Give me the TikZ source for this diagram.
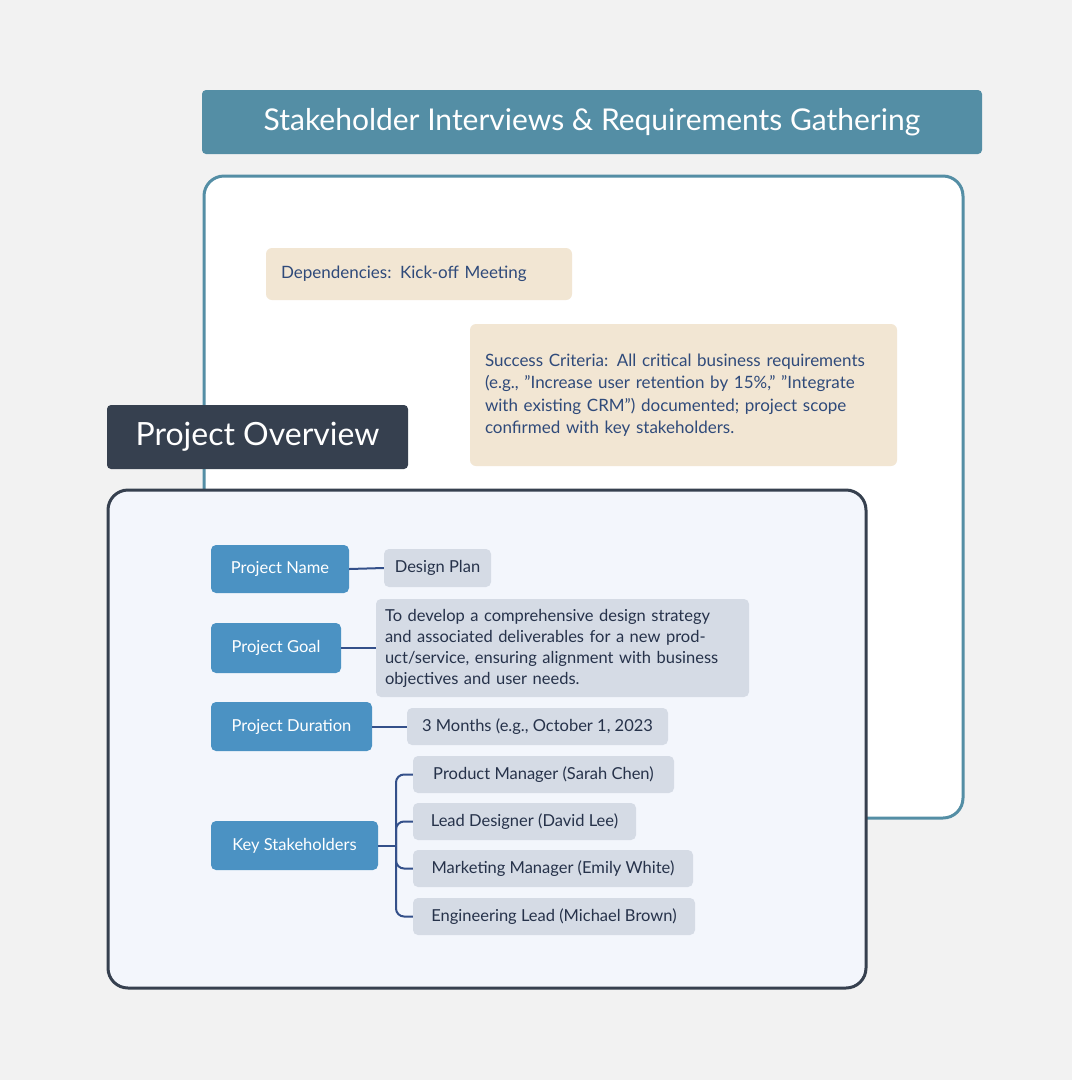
\documentclass[tikz,border=0pt]{standalone}
\usepackage{fontspec}
\setmainfont{Lato}
\begin{document}
\begin{tikzpicture}[x=1pt,y=-1pt,
 title/.style={rounded corners=4pt,text=white,font=\fontsize{30}{36}\selectfont,inner sep=0},
 beige/.style={fill=beigec,rounded corners=6pt,text=txt,font=\fontsize{17}{22.5}\selectfont,align=left,inner sep=0},
 blue/.style={fill=bluec,rounded corners=5pt,text=white,font=\fontsize{16.5}{20}\selectfont,inner sep=0},
 gray/.style={fill=grayc,rounded corners=5pt,text=darkt,font=\fontsize{16.5}{21}\selectfont,align=left,inner sep=0},
 conn/.style={draw=linec,line width=2pt,rounded corners=8pt}]
\definecolor{bg}{HTML}{F2F2F2}
\definecolor{teal}{HTML}{548EA5}
\definecolor{beigec}{HTML}{F2E6D3}
\definecolor{txt}{HTML}{2F4A7A}
\definecolor{dark}{HTML}{36404F}
\definecolor{panel}{HTML}{F3F6FC}
\definecolor{bluec}{HTML}{4B92C3}
\definecolor{grayc}{HTML}{D5DBE5}
\definecolor{darkt}{HTML}{26324A}
\definecolor{linec}{HTML}{34508A}
\fill[bg] (0,0) rectangle (1072,1080);
\useasboundingbox (0,0) rectangle (1072,1080);
% stakeholder section
\node[title,fill=teal,minimum width=780,minimum height=64] (t1) at (592,122) {Stakeholder Interviews \& Requirements Gathering};
\draw[teal,line width=3pt,fill=white,rounded corners=20pt] (204,176) rectangle (963,818);
\node[beige,minimum width=306,minimum height=52,text width=276] (dep) at (419,274) {Dependencies: Kick-off Meeting};
\node[beige,minimum width=427,minimum height=142,text width=397] (suc) at (683.5,395) {Success Criteria: All critical business requirements (e.g., "Increase user retention by 15\%," "Integrate with existing CRM") documented; project scope confirmed with key stakeholders.};
% overview
\node[title,fill=dark,minimum width=301,minimum height=64,font=\fontsize{32}{38}\selectfont] (t2) at (257.5,437) {Project Overview};
\draw[dark,line width=3pt,fill=panel,rounded corners=20pt] (108,490) rectangle (866,988);
\node[blue,minimum width=138,minimum height=48] (pn) at (280,569) {Project Name};
\node[gray,minimum width=107,minimum height=38] (dp) at (437.5,568) {Design Plan};
\node[blue,minimum width=130,minimum height=50] (pg) at (276,648) {Project Goal};
\node[gray,minimum width=373,minimum height=98,text width=355] (gt) at (562.5,648) {To develop a comprehensive design strategy and associated deliverables for a new product/service, ensuring alignment with business objectives and user needs.};
\node[blue,minimum width=161,minimum height=49] (pd) at (291.5,726.5) {Project Duration};
\node[gray,minimum width=261,minimum height=37] (dt) at (537.5,726.5) {3 Months (e.g., October 1, 2023};
\node[blue,minimum width=167,minimum height=49] (ks) at (294.5,845.5) {Key Stakeholders};
\node[gray,minimum width=261,minimum height=37] (s1) at (543.5,774.5) {Product Manager (Sarah Chen)};
\node[gray,minimum width=223,minimum height=37] (s2) at (524.5,821.5) {Lead Designer (David Lee)};
\node[gray,minimum width=280,minimum height=37] (s3) at (553,868.5) {Marketing Manager (Emily White)};
\node[gray,minimum width=282,minimum height=37] (s4) at (554,916.5) {Engineering Lead (Michael Brown)};
\draw[conn] (pn.east) -- (dp.west);
\draw[conn] (pg.east) -- (gt.west);
\draw[conn] (pd.east) -- (dt.west);
\coordinate (j) at (396,845.5);
\draw[conn] (ks.east) -- (j);
\draw[conn] (j) |- (s1.west);
\draw[conn] (j) |- (s2.west);
\draw[conn] (j) |- (s3.west);
\draw[conn] (j) |- (s4.west);
\end{tikzpicture}
\end{document}
